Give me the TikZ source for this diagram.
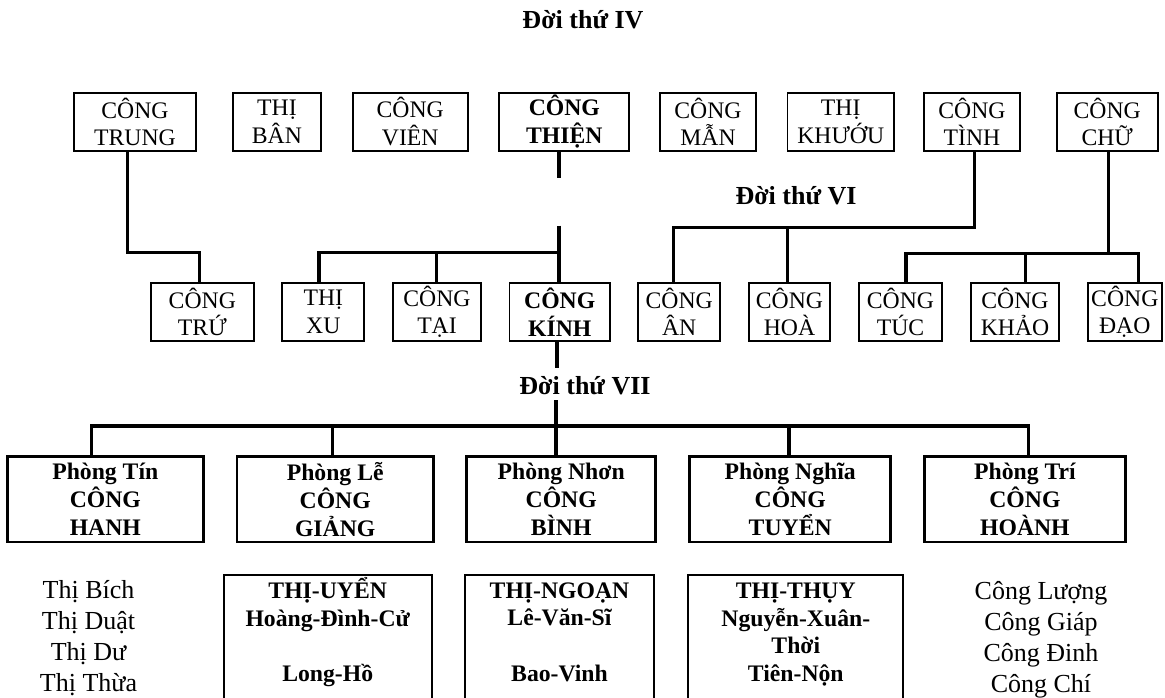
\documentclass[tikz,border=0pt]{standalone}
\usepackage{fontspec}
\setmainfont{Liberation Serif}
\begin{document}
\begin{tikzpicture}[x=1pt,y=-1pt,
  box/.style={draw, line width=1.8pt, inner sep=0pt, align=center,
    font=\fontsize{23.7}{27.5}\selectfont, minimum height=58pt},
  boxb/.style={box, font=\bfseries\fontsize{23.7}{27.5}\selectfont},
  phong/.style={draw, line width=2.8pt, inner sep=0pt, align=center,
    font=\bfseries\fontsize{23.7}{28}\selectfont, minimum height=85.3pt},
  lowbox/.style={draw, line width=1.8pt, inner sep=0pt, minimum height=160pt, anchor=north},
  lowtext/.style={align=center, inner sep=0pt, font=\bfseries\fontsize{23.7}{27.7}\selectfont},
  namelist/.style={align=center, inner sep=0pt, font=\fontsize{26}{31}\selectfont},
  gen/.style={inner sep=0pt, font=\bfseries\fontsize{26}{30}\selectfont},
  conn/.style={line width=3.4pt, line join=miter}
]
\fill[white] (0,0) rectangle (1165,698);
\useasboundingbox (0,0) rectangle (1165,698);
\clip (0,0) rectangle (1165,698);

% generation labels
\node[gen] (g4) at (583,20) {Đời thứ IV};
\node[gen] (g6) at (796,196) {Đời thứ VI};
\node[gen] (g7) at (585,386) {Đời thứ VII};

% top row
\node[box, minimum width=122pt]   (trung) at (135,121.7)   {CÔNG\\TRUNG};
\node[box, minimum width=88.3pt]  (ban)   at (276.9,121.7) {THỊ\\BÂN};
\node[box, minimum width=115pt]   (vien)  at (410.2,121.7) {CÔNG\\VIÊN};
\node[boxb, minimum width=130pt]  (thien) at (564.3,121.7) {CÔNG\\THIỆN};
\node[box, minimum width=95.3pt]  (man)   at (708,121.7)   {CÔNG\\MẪN};
\node[box, minimum width=106.5pt] (khuou) at (840.7,121.7) {THỊ\\KHƯỚU};
\node[box, minimum width=96pt]    (tinh)  at (972,121.7)   {CÔNG\\TÌNH};
\node[box, minimum width=101pt]   (chu)   at (1107.2,121.7) {CÔNG\\CHỮ};

% second row
\node[box, minimum height=57.4pt, minimum width=102.7pt] (tru)  at (202.3,312) {CÔNG\\TRỨ};
\node[box, minimum height=57.4pt, minimum width=82pt]    (xu)   at (323.3,312) {THỊ\\XU};
\node[box, minimum height=57.4pt, minimum width=88pt]    (tai)  at (437,312)   {CÔNG\\TẠI};
\node[boxb, minimum height=57.4pt, minimum width=100.5pt] (kinh) at (559.7,312) {CÔNG\\KÍNH};
\node[box, minimum height=57.4pt, minimum width=81.7pt]  (an)   at (679.2,312) {CÔNG\\ÂN};
\node[box, minimum height=57.4pt, minimum width=81.6pt]  (hoa)  at (789.5,312) {CÔNG\\HOÀ};
\node[box, minimum height=57.4pt, minimum width=83pt]    (tuc)  at (900.5,312) {CÔNG\\TÚC};
\node[box, minimum height=57.4pt, minimum width=88.6pt]  (khao) at (1015,312)  {CÔNG\\KHẢO};
\node[box, minimum height=57.4pt, minimum width=74.3pt]  (dao)  at (1124.8,312) {CÔNG\\ĐẠO};

% branches (Phong)
\node[phong, minimum width=196pt]   (tin)   at (105.3,499.3)  {Phòng Tín\\CÔNG\\HANH};
\node[phong, minimum width=196.3pt] (le)    at (335.2,499.3)  {Phòng Lễ\\CÔNG\\GIẢNG};
\node[phong, minimum width=189pt]   (nhon)  at (561.2,499.3)  {Phòng Nhơn\\CÔNG\\BÌNH};
\node[phong, minimum width=201pt]   (nghia) at (790.2,499.3)  {Phòng Nghĩa\\CÔNG\\TUYỂN};
\node[phong, minimum width=201pt]   (tri)   at (1024.9,499.3) {Phòng Trí\\CÔNG\\HOÀNH};

% lower boxes
\node[lowbox, minimum width=208pt] (uyen)  at (327.7,574.3) {};
\node[lowbox, minimum width=189pt] (ngoan) at (559.5,574.3) {};
\node[lowbox, minimum width=215pt] (thuy)  at (795.8,574.3) {};
\node[lowtext] (uyent)  at (327.7,632) {THỊ-UYỂN\\Hoàng-Đình-Cử\\[27.7pt]Long-Hồ};
\node[lowtext] (ngoant) at (559.5,632) {THỊ-NGOẠN\\Lê-Văn-Sĩ\\[27.7pt]Bao-Vinh};
\node[lowtext] (thuyt)  at (795.8,634.5) {THỊ-THỤY\\Nguyễn-Xuân-\\Thời\\Tiên-Nộn};

% name lists
\node[namelist] (tinlist) at (88.5,638.3)  {Thị Bích\\Thị Duật\\Thị Dư\\Thị Thừa};
\node[namelist] (trilist) at (1041,639.5)  {Công Lượng\\Công Giáp\\Công Đinh\\Công Chí};

% connectors
\draw[conn] (trung.south -| 127.7,0) |- (199.3,252.3) -- (tru.north -| 199.3,0);

\coordinate (thienend) at (559,178.3);
\coordinate (kbreak) at (559,225.7);
\draw[conn] (thien.south -| thienend) -- (thienend);
\draw[conn] (kbreak) -- (kinh.north -| kbreak);
\draw[conn] (xu.north -| 319,0) |- (559,252.7);
\draw[conn] (tai.north -| 436.7,0) -- (436.7,252.7);

\draw[conn] (tinh.south -| 974.7,0) |- (673.3,227.3) -- (an.north -| 673.3,0);
\draw[conn] (hoa.north -| 787.7,0) -- (787.7,227.3);

\draw[conn] (chu.south -| 1108.3,0) -- (1108.3,253.3);
\draw[conn] (tuc.north -| 906,0) |- (1138.6,253.3) -- (dao.north -| 1138.6,0);
\draw[conn] (khao.north -| 1025.7,0) -- (1025.7,253.3);

\coordinate (kinhend) at (557,368);
\coordinate (g7start) at (556,400);
\draw[conn] (kinh.south -| kinhend) -- (kinhend);
\draw[conn] (tin.north -| 91.7,0) |- (1028.3,426) -- (tri.north -| 1028.3,0);
\draw[conn] (g7start) -- (nhon.north -| g7start);
\draw[conn] (le.north -| 332.7,0) -- (332.7,426);
\draw[conn] (nghia.north -| 789,0) -- (789,426);
\end{tikzpicture}
\end{document}
